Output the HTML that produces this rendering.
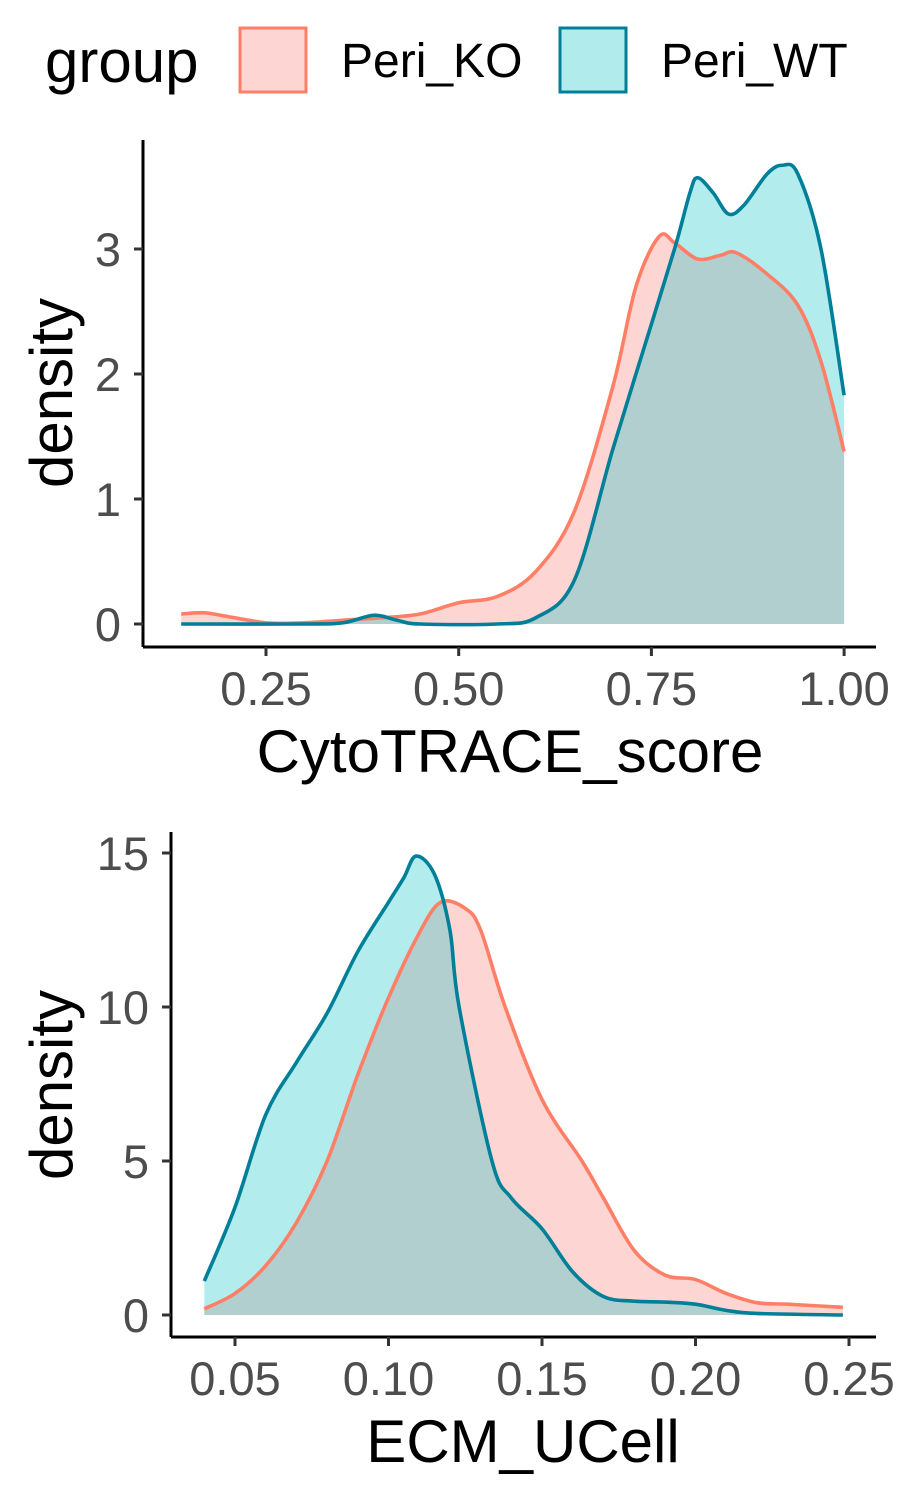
<!DOCTYPE html>
<html><head><meta charset="utf-8"><style>
body{margin:0;background:#fff}
svg{display:block;font-family:"Liberation Sans",Arial,sans-serif}
</style></head><body>
<svg id="chart" width="900" height="1500">
<g>
<text x="45" y="82" font-size="60" fill="#000">group</text>
<rect x="240" y="28" width="66" height="64" fill="#FDD6D3" stroke="#FF7F66" stroke-width="3"/>
<text x="341" y="77" font-size="48" fill="#000">Peri_KO</text>
<rect x="560" y="28" width="66" height="64" fill="#B2EBEC" stroke="#007F99" stroke-width="3"/>
<text x="661" y="77" font-size="48" fill="#000">Peri_WT</text>
</g>
<g id="p1"></g>
<g id="p2"></g>
</svg>
<script>
// Panel 1 data
const topXTicks=[0.25,0.5,0.75,1.0];
const topXLabels=["0.25","0.50","0.75","1.00"];
const topYTicks=[0,1,2,3];
const topKOx=[0.14,0.17,0.2,0.25,0.3,0.35,0.4,0.45,0.5,0.55,0.6,0.65,0.7,0.73,0.76,0.78,0.81,0.84,0.86,0.9,0.94,0.97,1.0];
const topKOy=[0.08,0.09,0.06,0.01,0.01,0.03,0.05,0.08,0.17,0.22,0.42,0.9,1.9,2.7,3.1,3.05,2.92,2.95,2.97,2.8,2.55,2.1,1.38];
const topWTx=[0.14,0.3,0.35,0.39,0.42,0.45,0.55,0.6,0.65,0.7,0.74,0.78,0.8,0.81,0.83,0.85,0.87,0.9,0.92,0.94,0.97,1.0];
const topWTy=[0,0,0.01,0.07,0.03,0,0,0.05,0.35,1.4,2.2,3.0,3.45,3.57,3.45,3.28,3.35,3.6,3.67,3.6,3.0,1.83];
// Panel 2 data
const botXTicks=[0.05,0.1,0.15,0.2,0.25];
const botXLabels=["0.05","0.10","0.15","0.20","0.25"];
const botYTicks=[0,5,10,15];
const botKOx=[0.04,0.05,0.06,0.07,0.08,0.09,0.1,0.11,0.117,0.125,0.13,0.138,0.15,0.163,0.17,0.18,0.19,0.2,0.21,0.22,0.23,0.248];
const botKOy=[0.2,0.7,1.6,3,5,7.8,10.3,12.4,13.4,13.2,12.5,10,7,5,3.8,2.1,1.3,1.15,0.7,0.4,0.35,0.25];
const botWTx=[0.04,0.05,0.06,0.07,0.08,0.09,0.1,0.105,0.109,0.115,0.12,0.123,0.1337,0.14,0.15,0.16,0.17,0.18,0.19,0.2,0.21,0.22,0.248];
const botWTy=[1.1,3.5,6.5,8.2,9.8,11.8,13.4,14.2,14.9,14.3,12.5,10,5,3.8,2.8,1.4,0.6,0.45,0.42,0.35,0.15,0.05,0];

const NS="http://www.w3.org/2000/svg";
function mk(parent,tag,attrs){const e=document.createElementNS(NS,tag);for(const k in attrs)e.setAttribute(k,attrs[k]);parent.appendChild(e);return e;}
function smooth(pts){let d="M"+pts[0][0]+","+pts[0][1];for(let i=0;i<pts.length-1;i++){const p0=pts[Math.max(0,i-1)],p1=pts[i],p2=pts[i+1],p3=pts[Math.min(pts.length-1,i+2)];
const c1x=p1[0]+(p2[0]-p0[0])/6,c1y=p1[1]+(p2[1]-p0[1])/6,c2x=p2[0]-(p3[0]-p1[0])/6,c2y=p2[1]-(p3[1]-p1[1])/6;d+=` C${c1x},${c1y} ${c2x},${c2y} ${p2[0]},${p2[1]}`;}return d;}
function panel(g,cfg){
  const sx=v=>cfg.x0px+(v-cfg.x0)*cfg.kx, sy=v=>cfg.y0px-v*cfg.ky;
  const series=[[cfg.kox,cfg.koy,"#F8766D","#FF7F66","ko"],[cfg.wtx,cfg.wty,"#00BFC4","#007F99","wt"]];
  series.forEach(s=>{const pts=s[0].map((x,i)=>[sx(x),sy(s[1][i])]);const d=smooth(pts);
    const a=mk(g,"path",{d:d+` L${pts[pts.length-1][0]},${sy(0)} L${pts[0][0]},${sy(0)} Z`,fill:s[2],"fill-opacity":0.3,stroke:"none"});
    
    });
  series.forEach(s=>{const pts=s[0].map((x,i)=>[sx(x),sy(s[1][i])]);
    const l=mk(g,"path",{d:smooth(pts),fill:"none",stroke:s[3],"stroke-width":3.6});
    
    });
  const ya=mk(g,"line",{x1:cfg.axX,y1:cfg.yTop,x2:cfg.axX,y2:cfg.axY,stroke:"#000","stroke-width":3});
  
  
  const xa=mk(g,"line",{x1:cfg.axX,y1:cfg.axY,x2:cfg.xRight,y2:cfg.axY,stroke:"#000","stroke-width":3});
  
  
  cfg.yt.forEach(v=>{mk(g,"line",{x1:cfg.axX-9,y1:sy(v),x2:cfg.axX,y2:sy(v),stroke:"#333","stroke-width":3});
    const t=mk(g,"text",{x:cfg.axX-22,y:sy(v)+17,"font-size":47,fill:"#4D4D4D","text-anchor":"end"});t.textContent=v;
    
    });
  cfg.xt.forEach((v,i)=>{mk(g,"line",{x1:sx(v),y1:cfg.axY,x2:sx(v),y2:cfg.axY+9,stroke:"#333","stroke-width":3});
    const t=mk(g,"text",{x:sx(v),y:cfg.axY+58,"font-size":47,fill:"#4D4D4D","text-anchor":"middle"});t.textContent=cfg.xl[i];
    
    });
  const xt=mk(g,"text",{x:cfg.xTitleX,y:cfg.axY+125,"font-size":60,fill:"#000","text-anchor":"middle"});xt.textContent=cfg.xTitle;
  
  
  const yt=mk(g,"text",{x:0,y:0,"font-size":60,fill:"#000","text-anchor":"middle",transform:`translate(72,${cfg.yTitleY}) rotate(-90)`});yt.textContent="density";
  
  
}
panel(document.getElementById("p1"),{x0:0.25,x0px:266,kx:192.7/0.25,y0px:624,ky:125,axX:143,axY:647,yTop:140,xRight:876,
  kox:topKOx,koy:topKOy,wtx:topWTx,wty:topWTy,xt:topXTicks,xl:topXLabels,yt:topYTicks,xTitle:"CytoTRACE_score",xTitleX:510,yTitleY:393});
panel(document.getElementById("p2"),{x0:0.05,x0px:235,kx:153.5/0.05,y0px:1315,ky:30.8,axX:171,axY:1337,yTop:832,xRight:876,
  kox:botKOx,koy:botKOy,wtx:botWTx,wty:botWTy,xt:botXTicks,xl:botXLabels,yt:botYTicks,xTitle:"ECM_UCell",xTitleX:523,yTitleY:1085});
</script>
</body></html>
